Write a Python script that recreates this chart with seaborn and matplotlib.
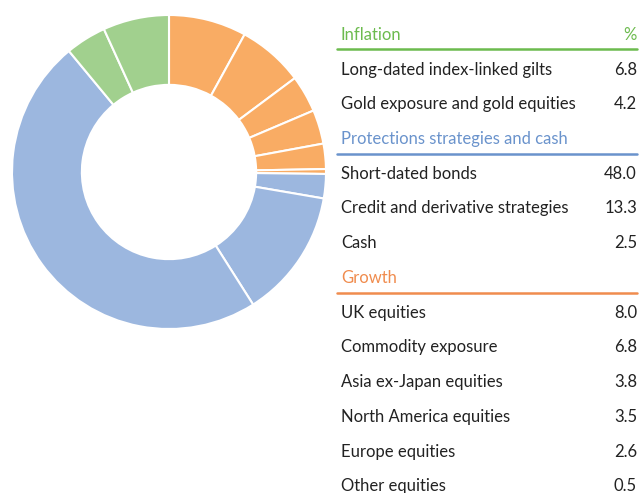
import matplotlib
matplotlib.use("Agg")
import matplotlib.pyplot as plt
import seaborn as sns

sns.set_theme(style="white")
plt.rcParams['font.family'] = ['Lato', 'DejaVu Sans']

# Data
groups = ["Inflation", "Protections strategies and cash", "Growth"]
inflation_labels = ["Long-dated index-linked gilts", "Gold exposure and gold equities"]
inflation_values = [6.8, 4.2]
protection_labels = ["Short-dated bonds", "Credit and derivative strategies", "Cash"]
protection_values = [48.0, 13.3, 2.5]
growth_labels = ["UK equities", "Commodity exposure", "Asia ex-Japan equities",
                 "North America equities", "Europe equities", "Other equities"]
growth_values = [8.0, 6.8, 3.8, 3.5, 2.6, 0.5]

slice_colors = {"Inflation": "#A1D08E", "Protections strategies and cash": "#9CB7DF", "Growth": "#F9AC64"}
header_colors = {"Inflation": "#6CBB4E", "Protections strategies and cash": "#6A93CC", "Growth": "#F08C4E"}

W, H = 639, 493
fig = plt.figure(figsize=(W / 100, H / 100), dpi=100)

# Donut: clockwise from top: growth, protection (reversed), inflation (reversed)
pie_vals = growth_values + protection_values[::-1] + inflation_values[::-1]
pie_cols = ([slice_colors["Growth"]] * len(growth_values)
            + [slice_colors["Protections strategies and cash"]] * len(protection_values)
            + [slice_colors["Inflation"]] * len(inflation_values))

cx, cy, r = 169, 172, 157
ax = fig.add_axes([(cx - r) / W, 1 - (cy + r) / H, 2 * r / W, 2 * r / H])
ax.pie(pie_vals, colors=pie_cols, startangle=90, counterclock=False, radius=1.0,
       wedgeprops=dict(width=0.445, edgecolor="white", linewidth=1.5))
ax.set_xlim(-1.0, 1.0)
ax.set_ylim(-1.0, 1.0)
ax.set_aspect("equal")
ax.axis("off")

# Table
def fy(y):
    return 1 - y / H

x_left, x_right = 341 / W, 637 / W
line_left = 337 / W
fs = 12
sections = [
    ("Inflation", inflation_labels, inflation_values, 35, 49, [70, 104]),
    ("Protections strategies and cash", protection_labels, protection_values, 139, 154, [174, 208, 243]),
    ("Growth", growth_labels, growth_values, 278, 293, [313, 347, 382, 417, 452, 486]),
]
for name, labels, values, hy, ly, rows in sections:
    col = header_colors[name]
    fig.text(x_left, fy(hy), name, color=col, fontsize=fs, va="center", ha="left")
    if name == "Inflation":
        fig.text(x_right, fy(hy), "%", color=col, fontsize=fs, va="center", ha="right")
    fig.add_artist(plt.Line2D([line_left, x_right], [fy(ly), fy(ly)], color=col,
                              linewidth=1.8, transform=fig.transFigure))
    for lab, val, y in zip(labels, values, rows):
        fig.text(x_left, fy(y), lab, color="#222222", fontsize=fs, va="center", ha="left")
        fig.text(x_right, fy(y), f"{val:.1f}", color="#222222", fontsize=fs, va="center", ha="right")

fig.savefig("out.png", dpi=100, facecolor="white")
